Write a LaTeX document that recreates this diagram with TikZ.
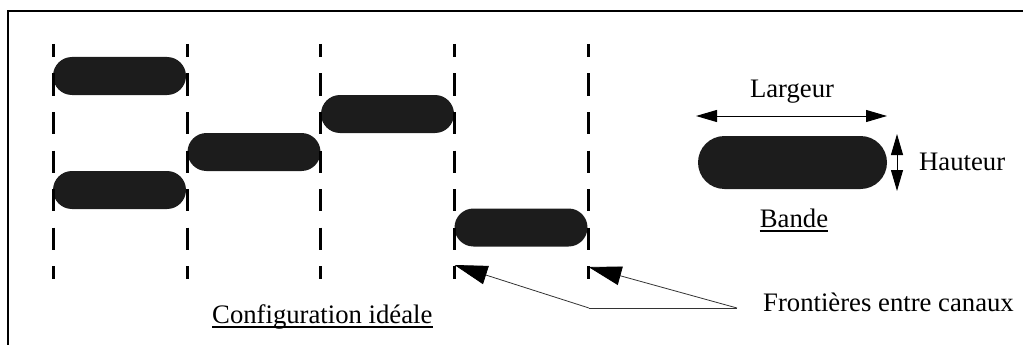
\documentclass[tikz,border=0pt]{standalone}
\usepackage{fontspec}
\setmainfont{Liberation Serif}
\usetikzlibrary{shapes.misc,arrows.meta,calc}
\definecolor{bandfill}{HTML}{1C1C1C}
\definecolor{leader}{HTML}{333333}
\tikzset{
  band/.style={rounded rectangle, fill=bandfill, inner sep=0pt, minimum width=133pt, minimum height=38pt},
  bigband/.style={rounded rectangle, fill=bandfill, inner sep=0pt, minimum width=189pt, minimum height=53pt},
  boundary/.style={line width=3pt, dash pattern=on 22pt off 16.5pt, dash phase=9pt},
  lbl/.style={font=\fontsize{26.7}{30}\selectfont, inner sep=0pt},
  uline/.style={line width=1.6pt},
  dimarrow/.style={line width=1pt, {Triangle[length=21pt,width=12pt]}-{Triangle[length=21pt,width=12pt]}},
  leaderline/.style={line width=0.8pt, draw=leader},
  pointer/.style={leaderline, -{Triangle[length=33pt,width=19pt,color=black]}}
}
\begin{document}
\begin{tikzpicture}[x=1pt,y=-1pt]
\useasboundingbox (0,0) rectangle (1023,345);
% frame
\draw[line width=1.6pt] (8,345) -- (8,11) -- (1023,11);
% bands
\node[band] (b1) at (119.5,76) {};
\node[band] (b2) at (119.5,190) {};
\node[band] (b3) at (254,152) {};
\node[band] (b4) at (387.5,114) {};
\node[band] (b5) at (521,227.5) {};
% channel boundaries
\foreach \i/\x in {1/53.5,2/187.5,3/320.5,4/454.5,5/588.5} {
  \coordinate (t\i) at (\x,44);
  \coordinate (u\i) at (\x,279);
  \draw[boundary] (t\i) -- (u\i);
}
% Configuration idéale
\node[lbl, anchor=base west] (cfg) at (212,323) {Configuration idéale};
\draw[uline] ($(cfg.base west)+(0,4)$) -- ($(cfg.base east)+(0,4)$);
% Frontières
\node[lbl, anchor=base west] (fr) at (763,311) {Frontières entre canaux};
\coordinate (k1) at (589,308);
\coordinate (k2) at (737,308);
\coordinate (p1) at (454.5,265);
\coordinate (p2) at (588.5,267);
\draw[leaderline] (k1) -- (k2);
\draw[pointer] (k1) -- (p1);
\draw[pointer] (k2) -- (p2);
% Bande legend
\node[bigband] (big) at (792.5,162.5) {};
\coordinate (la) at (696,116);
\coordinate (lb) at (887,116);
\draw[dimarrow] (la) -- (lb);
\node[lbl, anchor=base] (larg) at (792,97) {Largeur};
\coordinate (ha) at (897,134);
\coordinate (hb) at (897,191);
\draw[dimarrow] (ha) -- (hb);
\node[lbl, anchor=base west] (haut) at (919,170) {Hauteur};
\node[lbl, anchor=base] (bande) at (794,227) {Bande};
\draw[uline] ($(bande.base west)+(0,4)$) -- ($(bande.base east)+(0,4)$);
\end{tikzpicture}
\end{document}
